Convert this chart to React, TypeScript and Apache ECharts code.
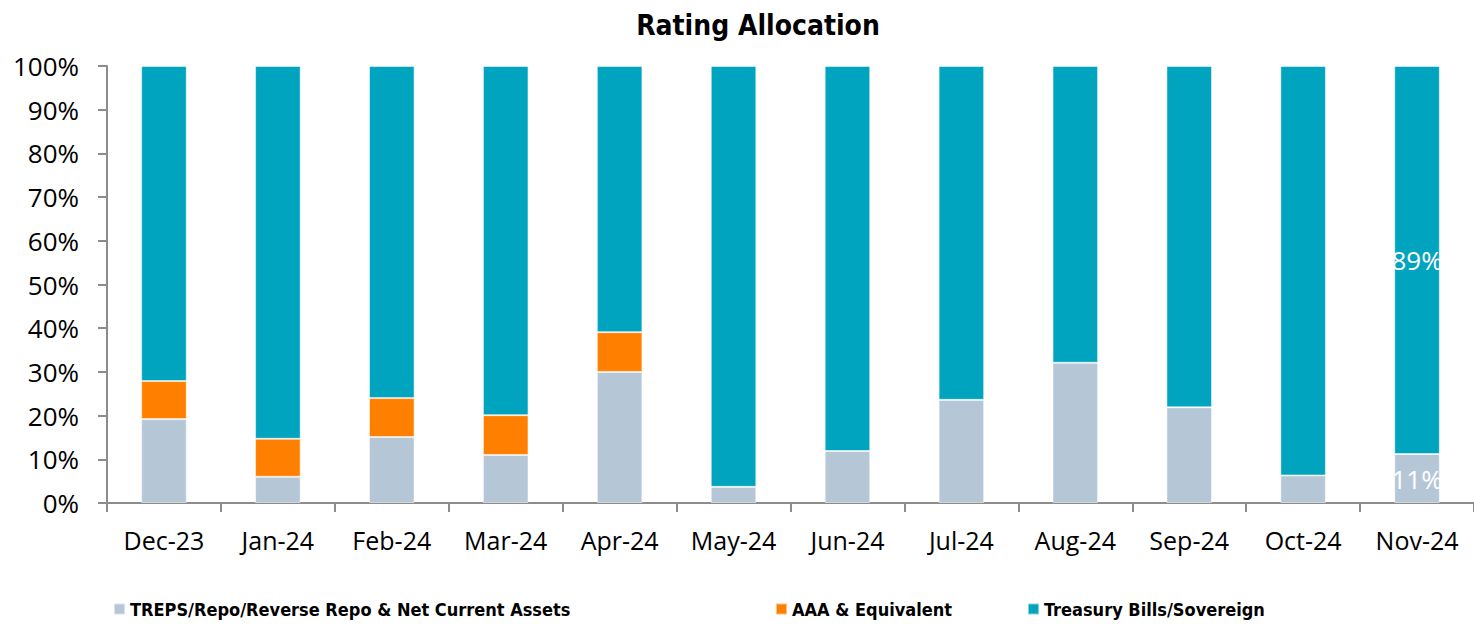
import React, { useEffect, useRef } from "react";
import * as echarts from "echarts";

const categories = ["Dec-23", "Jan-24", "Feb-24", "Mar-24", "Apr-24", "May-24", "Jun-24", "Jul-24", "Aug-24", "Sep-24", "Oct-24", "Nov-24"];
const trepsValues = [19.2, 6.0, 15.1, 11.0, 30.0, 3.7, 11.9, 23.6, 32.1, 21.9, 6.3, 11.2];
const aaaValues = [8.7, 8.7, 8.9, 9.1, 9.1, 0, 0, 0, 0, 0, 0, 0];
const treasuryValues = [72.1, 85.3, 76.0, 79.9, 60.9, 96.3, 88.1, 76.4, 67.9, 78.1, 93.7, 88.8];
const yTicks = [0, 10, 20, 30, 40, 50, 60, 70, 80, 90, 100];
const seriesNames = ["TREPS/Repo/Reverse Repo & Net Current Assets", "AAA & Equivalent", "Treasury Bills/Sovereign"];
const labelledIndex = [11];
const labelledSeries = [0, 2];

const COLORS = ["#B5C7D7", "#FF7F00", "#01A4BF"];
const AXIS_FONT = "'Open Sans', sans-serif";
const BOLD_FONT = "'DejaVu Sans Condensed', sans-serif";

export default function App() {
  const ref = useRef<HTMLDivElement>(null);
  useEffect(() => {
    if (!ref.current) return;
    const chart = echarts.init(ref.current, undefined, { renderer: "svg" });
    const mk = (vals: number[], k: number) =>
      vals.map((v, i) => ({
        value: v,
        label: { show: labelledSeries.includes(k) && labelledIndex.includes(i) },
      }));
    const labelCfg = {
      show: false,
      position: "inside" as const,
      color: "#ffffff",
      fontSize: 26,
      fontFamily: AXIS_FONT,
      formatter: (p: any) => Math.round(p.value) + "%",
    };
    const legendBase = {
      top: 600,
      itemWidth: 11,
      itemHeight: 11,
      icon: "rect",
      textStyle: { fontFamily: BOLD_FONT, fontWeight: "bold" as const, fontSize: 18, color: "#000" },
      padding: 0,
      itemGap: 4,
    };
    chart.setOption({
      animation: false,
      title: {
        text: "Rating Allocation",
        left: 753,
        top: 6,
        textAlign: "center",
        textStyle: { fontFamily: BOLD_FONT, fontWeight: "bold", fontSize: 28, color: "#000" },
      },
      legend: [
        { ...legendBase, left: 113, data: [seriesNames[0]] },
        { ...legendBase, left: 775, data: [seriesNames[1]] },
        { ...legendBase, left: 1027, data: [seriesNames[2]] },
      ],
      grid: { left: 107, right: 0, top: 66, bottom: 121, containLabel: false },
      xAxis: {
        type: "category",
        data: categories,
        axisLine: { lineStyle: { color: "#8C8C8C", width: 2 } },
        axisTick: { show: true, length: 9, lineStyle: { color: "#8C8C8C", width: 2 } },
        axisLabel: { fontFamily: AXIS_FONT, fontSize: 25, color: "#000", margin: 24 },
      },
      yAxis: {
        type: "value",
        min: 0,
        max: 100,
        interval: 10,
        axisLine: { show: true, lineStyle: { color: "#8C8C8C", width: 2 } },
        axisTick: { show: true, length: 9, lineStyle: { color: "#8C8C8C", width: 2 } },
        splitLine: { show: false },
        axisLabel: {
          fontFamily: AXIS_FONT,
          fontSize: 26,
          color: "#000",
          margin: 28,
          formatter: (v: number) => (yTicks.includes(v) ? v + "%" : ""),
        },
      },
      series: [trepsValues, aaaValues, treasuryValues].map((vals, k) => ({
        name: seriesNames[k],
        type: "bar",
        stack: "total",
        barWidth: "40%",
        itemStyle: { color: COLORS[k], borderColor: "rgba(255,255,255,0.5)", borderWidth: 1 },
        label: labelCfg,
        data: mk(vals, k),
      })),
    });
    return () => chart.dispose();
  }, []);
  return <div ref={ref} style={{ position: "absolute", left: 0, top: 0, width: 1474, height: 624 }} />;
}
